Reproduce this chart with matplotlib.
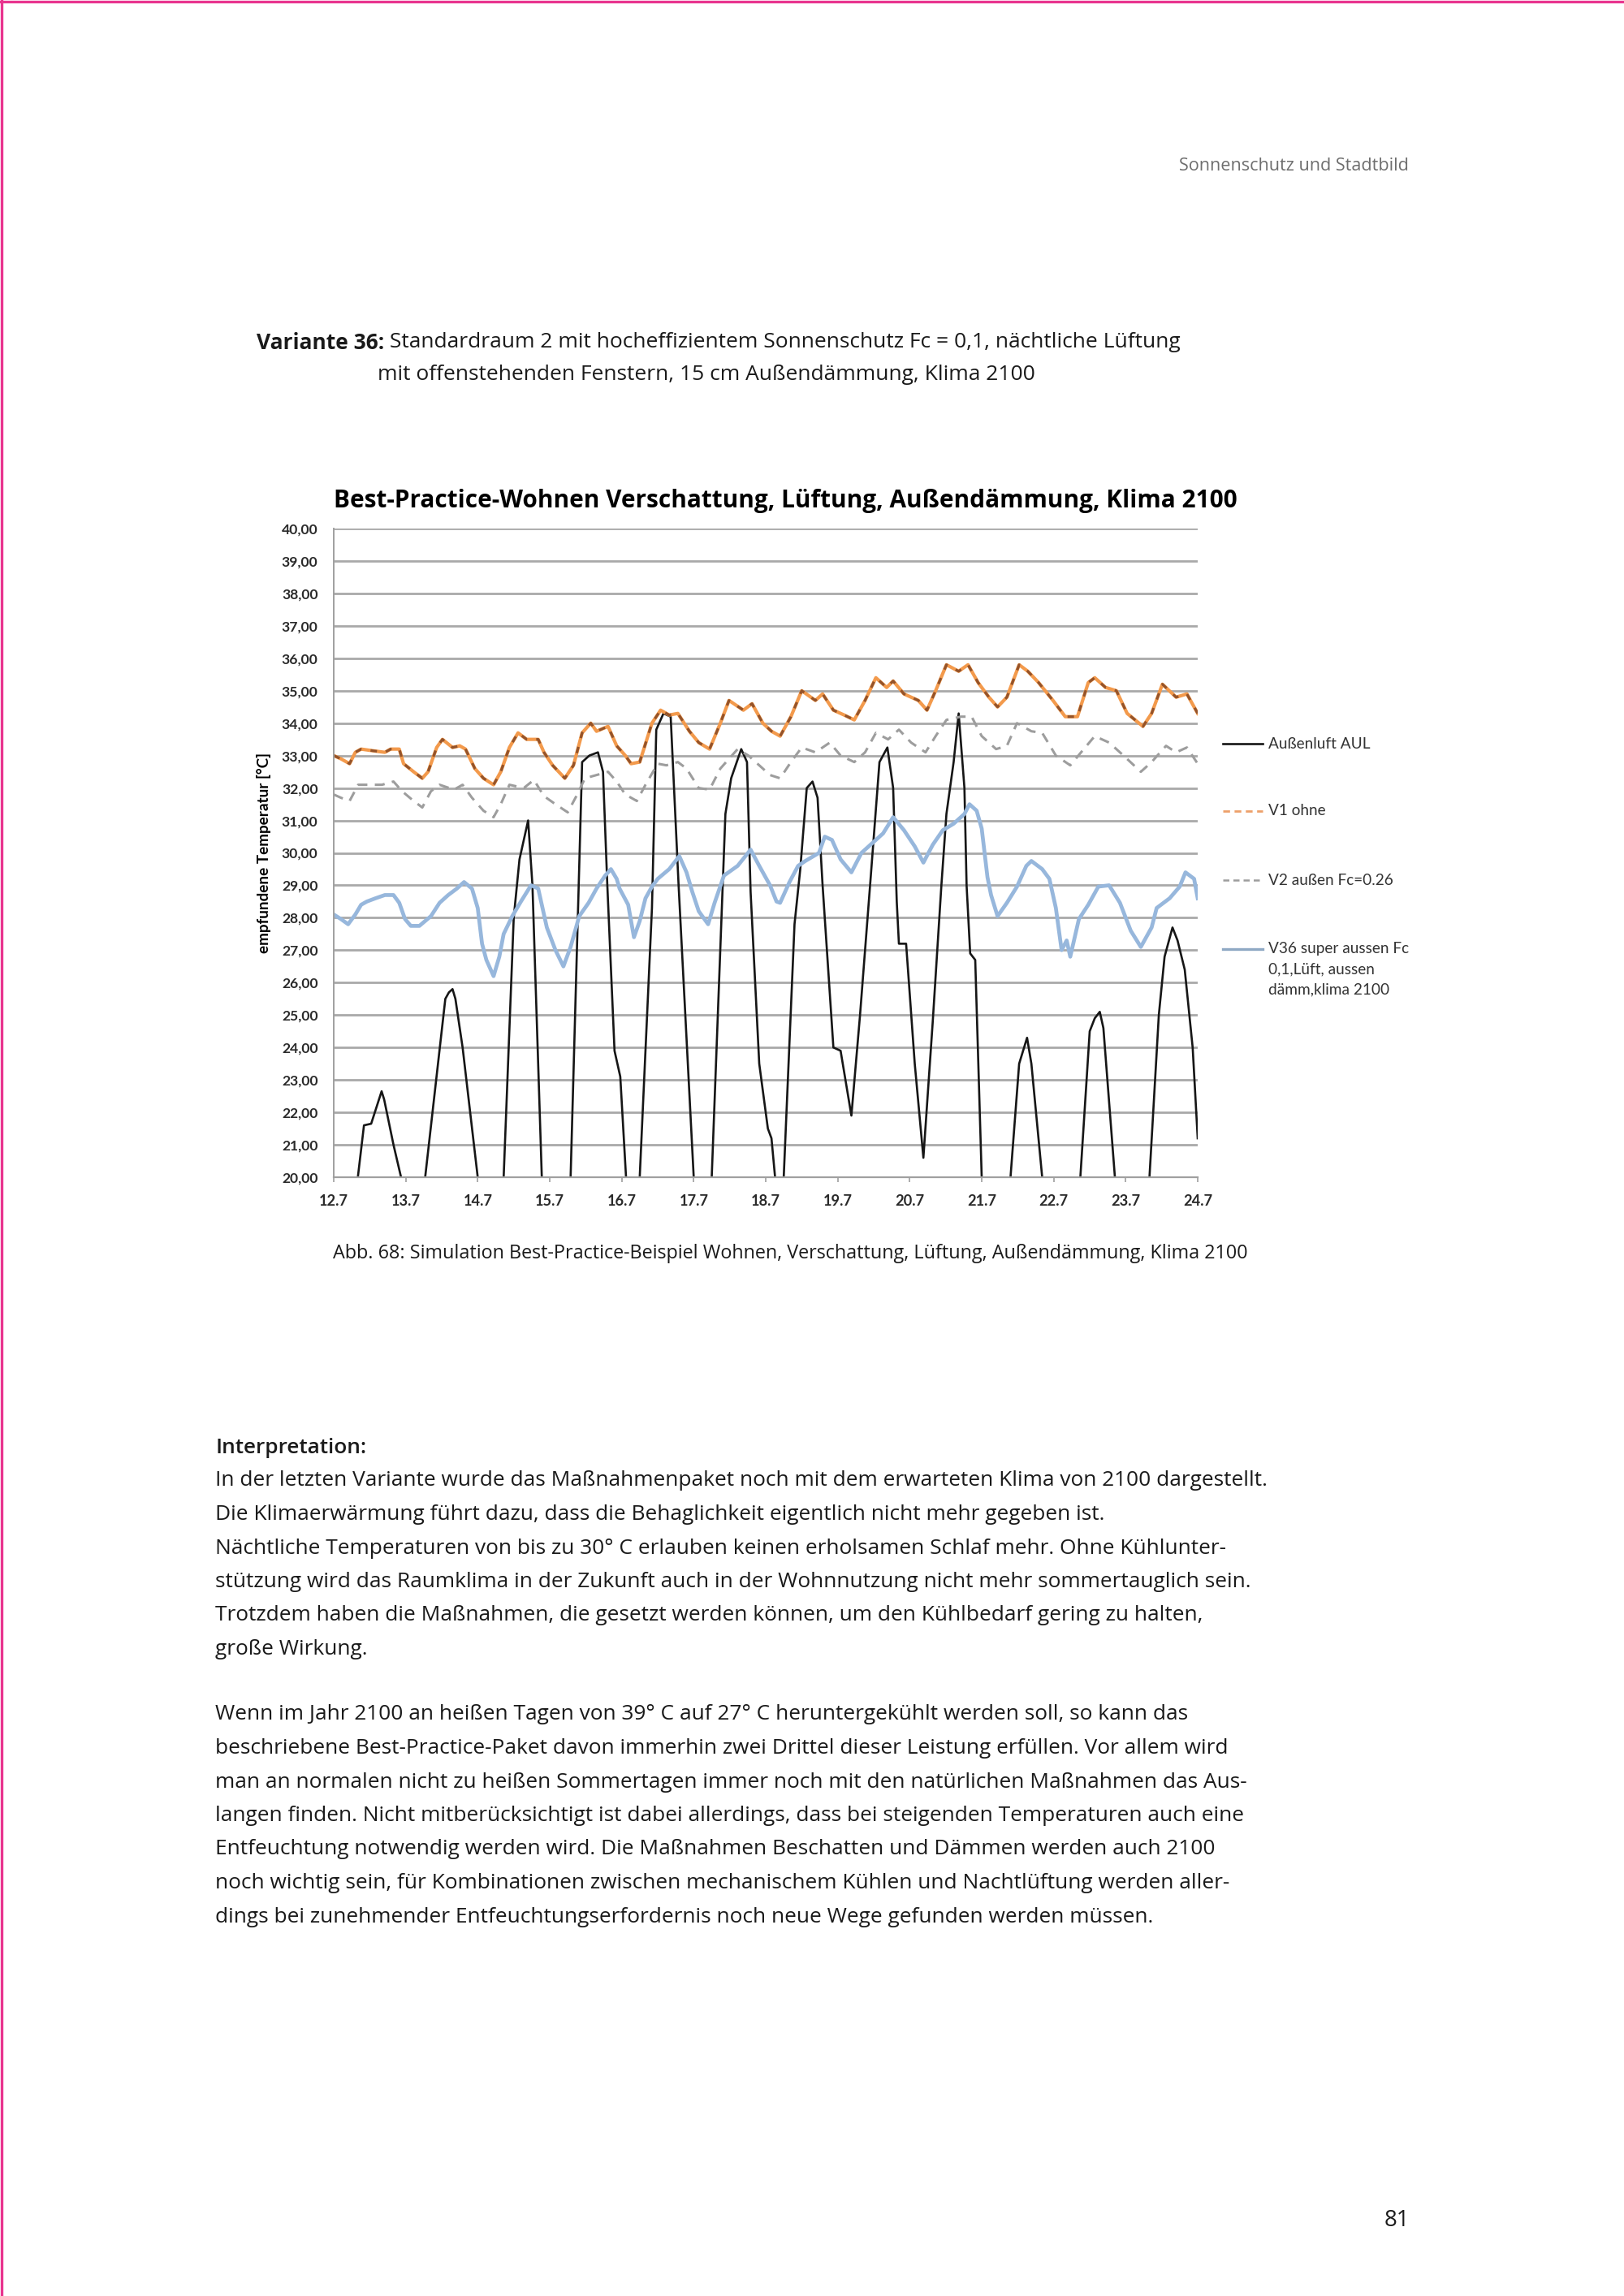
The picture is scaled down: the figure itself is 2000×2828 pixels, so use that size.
import matplotlib
matplotlib.use("Agg")
import matplotlib.pyplot as plt
from matplotlib.lines import Line2D

# ---------------- data (days after 12.7, temperature in degC) ----------------
xtick_labels = ["12.7", "13.7", "14.7", "15.7", "16.7", "17.7", "18.7",
                "19.7", "20.7", "21.7", "22.7", "23.7", "24.7"]
ytick_values = list(range(20, 41))

aul_day = [0.00, 0.335, 0.42, 0.52, 0.665, 0.70, 0.83, 0.935, 1.10, 1.27, 1.55, 1.60,
           1.65, 1.69, 1.79, 2.00, 2.18, 2.36, 2.50, 2.58, 2.70, 2.76, 2.89, 3.09,
           3.29, 3.45, 3.55, 3.67, 3.74, 3.80, 3.90, 3.98, 4.06, 4.15, 4.25, 4.42,
           4.48, 4.58, 4.68, 4.79, 5.00, 5.12, 5.25, 5.44, 5.52, 5.66, 5.74, 5.79,
           5.91, 6.03, 6.08, 6.13, 6.19, 6.25, 6.40, 6.48, 6.57, 6.65, 6.72, 6.79,
           6.94, 7.04, 7.19, 7.31, 7.46, 7.58, 7.69, 7.77, 7.82, 7.85, 7.95, 8.07,
           8.19, 8.32, 8.44, 8.51, 8.61, 8.68, 8.76, 8.79, 8.84, 8.91, 9.00, 9.20,
           9.40, 9.52, 9.63, 9.69, 9.84, 10.10, 10.37, 10.50, 10.57, 10.64, 10.69,
           10.85, 11.10, 11.33, 11.46, 11.54, 11.65, 11.72, 11.82, 11.93, 12.00]
aul_temp = [18.5, 20.0, 21.6, 21.65, 22.65, 22.4, 21.0, 20.0, 18.3, 20.0, 25.5, 25.7,
            25.8, 25.5, 24.0, 20.0, 18.2, 20.0, 28.0, 29.8, 31.0, 29.0, 20.0, 18.0,
            20.0, 32.8, 33.0, 33.1, 32.5, 29.0, 23.9, 23.1, 20.0, 19.0, 20.0, 28.3,
            33.8, 34.3, 34.2, 29.0, 20.0, 18.5, 20.0, 31.2, 32.3, 33.2, 32.8, 28.8,
            23.5, 21.5, 21.2, 20.0, 19.0, 20.0, 27.8, 29.5, 32.0, 32.2, 31.7, 29.0,
            24.0, 23.9, 21.9, 25.0, 29.3, 32.8, 33.25, 32.0, 28.5, 27.2, 27.2, 23.5,
            20.6, 24.8, 29.0, 31.2, 32.8, 34.3, 32.0, 29.0, 26.9, 26.7, 20.0, 18.0,
            20.0, 23.5, 24.3, 23.5, 20.0, 18.0, 20.0, 24.5, 24.9, 25.1, 24.6,
            20.0, 18.0, 20.0, 25.0, 26.8, 27.7, 27.3, 26.4, 24.0, 21.2]

v1_day = [0.00, 0.10, 0.22, 0.30, 0.38, 0.54, 0.71, 0.79, 0.91, 0.97, 1.11, 1.23,
          1.31, 1.43, 1.51, 1.65, 1.75, 1.83, 1.96, 2.08, 2.22, 2.32, 2.44, 2.56,
          2.68, 2.84, 2.92, 3.04, 3.21, 3.33, 3.45, 3.57, 3.65, 3.81, 3.93, 4.05,
          4.13, 4.25, 4.42, 4.54, 4.66, 4.78, 4.94, 5.07, 5.22, 5.37, 5.49, 5.69,
          5.81, 5.96, 6.08, 6.20, 6.35, 6.50, 6.69, 6.79, 6.94, 7.09, 7.23, 7.38,
          7.53, 7.68, 7.77, 7.92, 8.12, 8.24, 8.36, 8.51, 8.68, 8.81, 8.95, 9.10,
          9.22, 9.35, 9.52, 9.64, 9.79, 9.99, 10.16, 10.33, 10.48, 10.57, 10.72,
          10.87, 11.02, 11.24, 11.36, 11.51, 11.70, 11.85, 12.00]
v1_temp = [33.0, 32.9, 32.75, 33.1, 33.2, 33.15, 33.1, 33.2, 33.2, 32.75, 32.5, 32.3,
           32.5, 33.25, 33.5, 33.25, 33.3, 33.2, 32.6, 32.3, 32.1, 32.5, 33.25, 33.7,
           33.5, 33.5, 33.1, 32.7, 32.3, 32.7, 33.7, 34.0, 33.75, 33.9, 33.3, 33.0,
           32.75, 32.8, 34.0, 34.4, 34.25, 34.3, 33.75, 33.4, 33.2, 34.0, 34.7, 34.4,
           34.6, 34.0, 33.75, 33.6, 34.2, 35.0, 34.7, 34.9, 34.4, 34.25, 34.1, 34.7,
           35.4, 35.1, 35.3, 34.9, 34.7, 34.4, 35.0, 35.8, 35.6, 35.8, 35.25, 34.8,
           34.5, 34.8, 35.8, 35.6, 35.25, 34.7, 34.2, 34.2, 35.25, 35.4, 35.1,
           35.0, 34.3, 33.9, 34.3, 35.2, 34.8, 34.9, 34.3]

v2_day = [0.00, 0.10, 0.22, 0.34, 0.46, 0.67, 0.83, 0.95, 1.11, 1.23, 1.35, 1.47,
          1.67, 1.79, 1.92, 2.08, 2.22, 2.32, 2.44, 2.64, 2.78, 2.92, 3.08, 3.25,
          3.37, 3.49, 3.65, 3.81, 3.93, 4.05, 4.21, 4.33, 4.50, 4.62, 4.78, 4.90,
          5.07, 5.22, 5.37, 5.61, 5.76, 5.91, 6.06, 6.20, 6.35, 6.50, 6.69, 6.89,
          7.04, 7.23, 7.38, 7.53, 7.70, 7.85, 8.02, 8.22, 8.36, 8.51, 8.71, 8.86,
          9.00, 9.20, 9.35, 9.49, 9.69, 9.84, 10.03, 10.23, 10.38, 10.57, 10.77,
          10.97, 11.21, 11.36, 11.56, 11.70, 11.85, 12.00]
v2_temp = [31.8, 31.7, 31.6, 32.1, 32.1, 32.1, 32.2, 31.9, 31.6, 31.4, 31.9, 32.1,
           31.95, 32.1, 31.7, 31.3, 31.1, 31.5, 32.1, 32.0, 32.25, 31.75, 31.5, 31.25,
           31.75, 32.3, 32.4, 32.5, 32.2, 31.8, 31.6, 32.1, 32.75, 32.7, 32.8, 32.6,
           32.0, 31.95, 32.6, 33.2, 33.0, 32.7, 32.4, 32.3, 32.8, 33.25, 33.1, 33.4,
           33.0, 32.8, 33.1, 33.7, 33.5, 33.8, 33.4, 33.1, 33.6, 34.1, 34.2, 34.2,
           33.6, 33.2, 33.3, 34.0, 33.75, 33.7, 33.0, 32.7, 33.1, 33.6, 33.4,
           33.0, 32.5, 32.8, 33.3, 33.1, 33.25, 32.75]

v36_day = [0.00, 0.10, 0.20, 0.30, 0.38, 0.46, 0.58, 0.71, 0.83, 0.91, 0.99, 1.07,
           1.19, 1.27, 1.35, 1.47, 1.59, 1.71, 1.81, 1.92, 2.00, 2.06, 2.12, 2.22,
           2.30, 2.36, 2.48, 2.60, 2.74, 2.84, 2.96, 3.08, 3.19, 3.29, 3.41, 3.54,
           3.65, 3.77, 3.85, 3.93, 3.97, 4.09, 4.17, 4.25, 4.33, 4.42, 4.50, 4.66,
           4.80, 4.90, 4.98, 5.07, 5.20, 5.29, 5.42, 5.61, 5.79, 5.91, 6.06, 6.15,
           6.20, 6.33, 6.45, 6.55, 6.74, 6.82, 6.92, 7.04, 7.19, 7.33, 7.48, 7.63,
           7.77, 7.92, 8.07, 8.19, 8.32, 8.46, 8.61, 8.76, 8.83, 8.93, 9.00, 9.08,
           9.13, 9.22, 9.35, 9.49, 9.62, 9.69, 9.84, 9.94, 10.03, 10.11, 10.18,
           10.23, 10.35, 10.48, 10.62, 10.77, 10.92, 11.07, 11.21, 11.36, 11.43,
           11.61, 11.75, 11.83, 11.95, 12.00]
v36_temp = [28.1, 27.96, 27.8, 28.1, 28.4, 28.5, 28.6, 28.7, 28.7, 28.46, 27.96, 27.75,
            27.75, 27.9, 28.05, 28.46, 28.7, 28.9, 29.1, 28.9, 28.3, 27.2, 26.7, 26.2,
            26.8, 27.5, 28.05, 28.5, 29.0, 28.9, 27.7, 27.0, 26.5, 27.1, 28.05, 28.46,
            28.9, 29.3, 29.5, 29.2, 28.9, 28.4, 27.4, 27.9, 28.6, 28.96, 29.2, 29.5,
            29.9, 29.4, 28.8, 28.2, 27.8, 28.46, 29.3, 29.6, 30.1, 29.6, 29.0, 28.5,
            28.46, 29.1, 29.6, 29.75, 30.0, 30.5, 30.4, 29.8, 29.4, 30.0, 30.3, 30.6,
            31.1, 30.7, 30.2, 29.7, 30.25, 30.7, 30.9, 31.2, 31.5, 31.3, 30.75, 29.25,
            28.7, 28.05, 28.46, 28.96, 29.6, 29.75, 29.5, 29.2, 28.3, 27.0, 27.3,
            26.8, 27.96, 28.4, 28.96, 29.0, 28.46, 27.6, 27.1, 27.7, 28.3,
            28.6, 28.96, 29.4, 29.2, 28.6]

series_labels = ["Außenluft AUL", "V1 ohne", "V2 außen Fc=0.26",
                 ["V36 super aussen Fc", "0,1,Lüft, aussen", "dämm,klima 2100"]]

header_text = "Sonnenschutz und Stadtbild"
variante_bold = "Variante 36:"
variante_rest = " Standardraum 2 mit hocheffizientem Sonnenschutz Fc = 0,1, nächtliche Lüftung"
variante_line2 = "mit offenstehenden Fenstern, 15 cm Außendämmung, Klima 2100"
chart_title = "Best-Practice-Wohnen Verschattung, Lüftung, Außendämmung, Klima 2100"
y_label = "empfundene Temperatur [°C]"
caption = ("Abb. 68: Simulation Best-Practice-Beispiel Wohnen, Verschattung, Lüftung, "
           "Außendämmung, Klima 2100")
interp_head = "Interpretation:"
para1 = ["In der letzten Variante wurde das Maßnahmenpaket noch mit dem erwarteten Klima von 2100 dargestellt.",
         "Die Klimaerwärmung führt dazu, dass die Behaglichkeit eigentlich nicht mehr gegeben ist.",
         "Nächtliche Temperaturen von bis zu 30° C erlauben keinen erholsamen Schlaf mehr. Ohne Kühlunter-",
         "stützung wird das Raumklima in der Zukunft auch in der Wohnnutzung nicht mehr sommertauglich sein.",
         "Trotzdem haben die Maßnahmen, die gesetzt werden können, um den Kühlbedarf gering zu halten,",
         "große Wirkung."]
para2 = ["Wenn im Jahr 2100 an heißen Tagen von 39° C auf 27° C heruntergekühlt werden soll, so kann das",
         "beschriebene Best-Practice-Paket davon immerhin zwei Drittel dieser Leistung erfüllen. Vor allem wird",
         "man an normalen nicht zu heißen Sommertagen immer noch mit den natürlichen Maßnahmen das Aus-",
         "langen finden. Nicht mitberücksichtigt ist dabei allerdings, dass bei steigenden Temperaturen auch eine",
         "Entfeuchtung notwendig werden wird. Die Maßnahmen Beschatten und Dämmen werden auch 2100",
         "noch wichtig sein, für Kombinationen zwischen mechanischem Kühlen und Nachtlüftung werden aller-",
         "dings bei zunehmender Entfeuchtungserfordernis noch neue Wege gefunden werden müssen."]
page_number = "81"

# ---------------- figure ----------------
W, H = 2000, 2828
fig = plt.figure(figsize=(W / 100, H / 100), dpi=100)
fig.patch.set_facecolor("white")
renderer = fig.canvas.get_renderer()

BODY = ["Open Sans", "DejaVu Sans"]
CHART = ["Lato", "DejaVu Sans"]


def fx(x):
    return x / W


def fy(y):
    return 1 - y / H


def width_at10(s, family, weight="normal"):
    t = fig.text(0, 0, s, fontsize=10, family=family, fontweight=weight)
    w = t.get_window_extent(renderer).width
    t.remove()
    return w


def fit(s, target, family, weight="normal"):
    return 10 * target / width_at10(s, family, weight)


def put(x, y, s, fs, family, weight="normal", ha="left", color="black", **kw):
    return fig.text(fx(x), fy(y), s, fontsize=fs, family=family, fontweight=weight,
                    ha=ha, va="center", color=color, **kw)


# page border (pink) on left and top
fig.add_artist(Line2D([0, 1], [fy(1.5), fy(1.5)], transform=fig.transFigure,
                      color="#E8358F", lw=2.4))
fig.add_artist(Line2D([fx(1.5), fx(1.5)], [0, 1], transform=fig.transFigure,
                      color="#E8358F", lw=2.4))

# header
put(1735, 204, header_text, fit(header_text, 283, BODY), BODY, ha="right", color="#6e6e6e")

# Variante heading
wb = width_at10(variante_bold, BODY, "bold")
wr = width_at10(variante_rest, BODY)
fs_var = 10 * 1138 / (wb + wr)
put(316, 422, variante_bold, fs_var, BODY, "bold", color="#1a1a1a")
put(316 + wb * fs_var / 10, 422, variante_rest, fs_var, BODY, color="#1a1a1a")
put(465, 462, variante_line2, fs_var, BODY, color="#1a1a1a")

# chart title
put(411 + 1113 / 2, 617, chart_title, fit(chart_title, 1113, BODY, "bold"), BODY, "bold",
    ha="center")

# ---------------- axes ----------------
ax = fig.add_axes([fx(411), fy(1450), (1475 - 411) / W, (1450 - 651) / H])
ax.set_xlim(0, 12)
ax.set_ylim(20, 40)
ax.set_yticks(ytick_values)
ax.set_yticklabels([f"{v:.2f}".replace(".", ",") for v in ytick_values])
ax.set_xticks(range(len(xtick_labels)))
ax.set_xticklabels(xtick_labels)
ax.grid(axis="y", color="#a9a9a9", lw=2.0)
ax.set_axisbelow(True)
for s in ["top", "right"]:
    ax.spines[s].set_visible(False)
ax.spines["left"].set_color("#a0a0a0")
ax.spines["bottom"].set_color("#a0a0a0")
ax.spines["left"].set_linewidth(1.4)
ax.spines["bottom"].set_linewidth(1.6)

fs_ytick = fit("40,00", 45, CHART, "bold")
fs_xtick = fit("12.7", 36, CHART, "bold")
ax.tick_params(axis="y", length=0, pad=14, labelsize=fs_ytick, labelcolor="#2a2a2a")
ax.tick_params(axis="x", length=4, width=1.2, color="#a0a0a0", pad=11,
               labelsize=fs_xtick, labelcolor="#2a2a2a")
for lab in ax.get_yticklabels() + ax.get_xticklabels():
    lab.set_family(CHART)
    lab.set_fontweight("bold")

ln_aul, = ax.plot(aul_day, aul_temp, color="#161616", lw=1.9)
ax.plot(v1_day, v1_temp, color="#F39A4C", lw=3.0)
ln_v1, = ax.plot(v1_day, v1_temp, color="#94532A", lw=2.3, dashes=(2.5, 3.5))
ln_v2, = ax.plot(v2_day, v2_temp, color="#9d9d9d", lw=2.2, dashes=(4, 3))
ln_v36, = ax.plot(v36_day, v36_temp, color="#97B7DC", lw=3.4)

# y label
fs_yl = fit(y_label, 247, CHART, "bold")
put(325, 1050, y_label, fs_yl, CHART, "bold", ha="center", rotation=90)

# ---------------- legend (manual, to the right of the plot) ----------------
leg_y = [916, 999, 1084, 1169]
leg_styles = [dict(color="#161616", lw=1.9),
              dict(color="#EDA06A", lw=2.0, dashes=(3, 2)),
              dict(color="#9d9d9d", lw=1.8, dashes=(3, 2)),
              dict(color="#8FA9C4", lw=2.4)]
fs_leg = fit(series_labels[3][0], 173, CHART)
for yy, st, lab in zip(leg_y, leg_styles, series_labels):
    fig.add_artist(Line2D([fx(1506), fx(1555)], [fy(yy), fy(yy)],
                          transform=fig.transFigure, **st))
    lines = lab if isinstance(lab, list) else [lab]
    for i, l in enumerate(lines):
        put(1562, yy + i * 25, l, fs_leg, CHART, color="#333333")

# caption
put(408 + 1130 / 2, 1544, caption, fit(caption, 1130, BODY), BODY, ha="center",
    color="#1a1a1a")

# body text
fs_body = fit(para1[0], 1297, BODY)
put(265, 1784, interp_head, fs_body, BODY, "semibold", color="#1a1a1a")
for i, l in enumerate(para1):
    put(265, 1824 + i * 41.5, l, fs_body, BODY, color="#1a1a1a")
for i, l in enumerate(para2):
    put(265, 2112 + i * 41.5, l, fs_body, BODY, color="#1a1a1a")

# page number
put(1720, 2735, page_number, fs_body * 1.05, BODY, ha="center", color="#1a1a1a")

fig.savefig("out.png", dpi=100, facecolor="white")
